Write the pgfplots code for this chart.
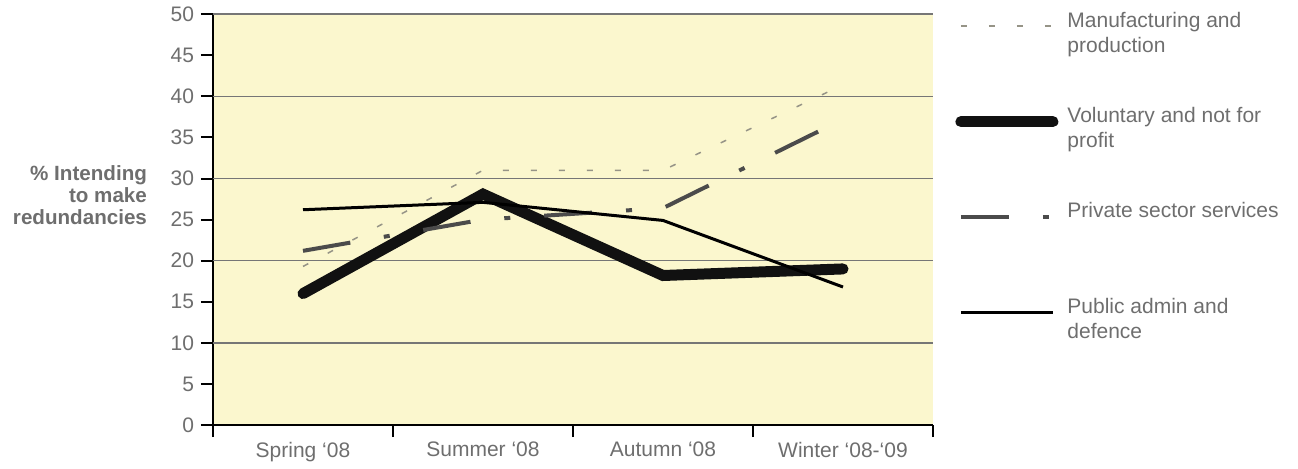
\documentclass[border=0pt]{standalone}
\usepackage{fontspec}
\setmainfont{Liberation Sans}
\usepackage{pgfplots}
\pgfplotsset{compat=1.18}

\definecolor{bgyel}{RGB}{251,247,206}
\definecolor{txtgray}{RGB}{110,110,110}
\definecolor{gridgray}{RGB}{118,118,118}
\definecolor{mfg}{RGB}{150,148,135}
\definecolor{priv}{RGB}{75,75,75}
\definecolor{volk}{RGB}{17,17,17}

\begin{document}
\begin{tikzpicture}
\begin{axis}[
    name=ax,
    scale only axis,
    width=360pt, height=205.5pt,
    xmin=-0.5, xmax=3.5, ymin=0, ymax=50,
    axis background/.style={fill=bgyel},
    axis x line*=bottom, axis y line*=left,
    axis line style={-, line width=1pt, black},
    tick align=outside,
    major tick length=6pt, minor tick length=6pt,
    xtick={0,1,2,3},
    xticklabels={Spring `08, Summer `08, Autumn `08, Winter `08-`09},
    major x tick style={draw=none},
    minor xtick={-0.5,0.5,1.5,2.5,3.5},
    minor x tick style={line width=1pt, black},
    ytick={0,5,...,50},
    y tick style={line width=1pt, black},
    extra y ticks={10,20,30,40,50},
    extra y tick labels={},
    extra y tick style={grid=major, major tick length=0pt},
    grid style={gridgray, line width=0.75pt},
    /pgf/number format/assume math mode=true,
    tick label style={font=\fontsize{10.5}{12}\selectfont, color=txtgray},
    xticklabel style={yshift=1pt},
    every axis y label/.style={at={(rel axis cs:0,0.56)}, anchor=east, xshift=-29.5pt,
        align=right, font=\bfseries\fontsize{10.3}{11}\selectfont, color=txtgray},
    ylabel={\% Intending\\to make\\redundancies},
    legend style={at={(rel axis cs:1,1)}, anchor=north west, xshift=11pt, yshift=2.5pt,
        draw=none, fill=none, inner sep=0pt, row sep=31pt, column sep=4.5pt,
        font=\fontsize{10.5}{12.5}\selectfont, text=txtgray, nodes={inner sep=0pt}},
    legend cell align=left,
    legend image code/.code={\draw[#1] (0pt,0pt) -- (46pt,0pt);},
]
\addplot[mfg, line width=0.75pt, dash pattern=on 3pt off 11pt]
    coordinates {(0,19.3) (1,31) (2,31) (3,41.4)};
\addlegendentry{\begin{tabular}{@{}l@{}}Manufacturing and\\production\end{tabular}}

\addplot[volk, line width=5.5pt, line cap=round]
    coordinates {(0,16) (1,28.1) (2,18.2) (3,19)};
\addlegendentry{\begin{tabular}{@{}l@{}}Voluntary and not for\\profit\end{tabular}}

\addplot[priv, line width=2pt, dash pattern=on 24pt off 17pt on 3pt off 17pt]
    coordinates {(0,21.2) (1,25) (2,26.4) (3,37.2)};
\addlegendentry{\begin{tabular}{@{}l@{}}Private sector services\\\mbox{}\end{tabular}}

\addplot[black, line width=1.5pt]
    coordinates {(0,26.2) (1,27.1) (2,24.9) (3,16.8)};
\addlegendentry{\begin{tabular}{@{}l@{}}Public admin and\\defence\end{tabular}}
\end{axis}
\path ([xshift=-106.5pt,yshift=-20pt]ax.south west) rectangle ([xshift=182.5pt,yshift=7pt]ax.north east);
\end{tikzpicture}
\end{document}
